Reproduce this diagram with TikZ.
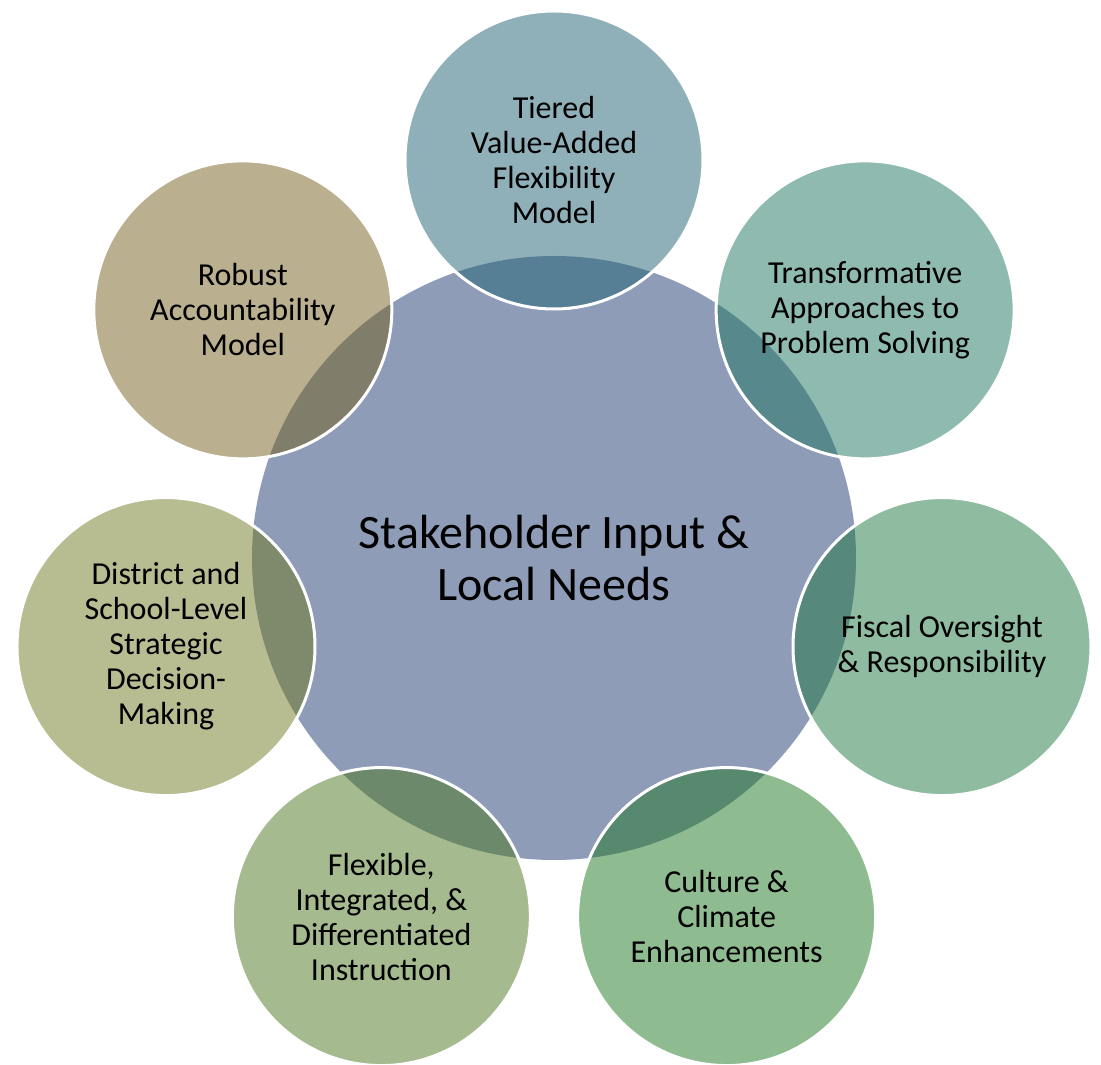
\documentclass[tikz,border=0pt]{standalone}
\usepackage{fontspec}
\setmainfont{Carlito}
\usepackage{xcolor}
\definecolor{hubblue}{RGB}{142,156,184}
\definecolor{tieredc}{RGB}{31,97,113}
\definecolor{transformc}{RGB}{31,117,97}
\definecolor{fiscalc}{RGB}{31,119,65}
\definecolor{culturec}{RGB}{31,119,35}
\definecolor{instructc}{RGB}{75,119,31}
\definecolor{districtc}{RGB}{113,121,35}
\definecolor{robustc}{RGB}{117,95,31}
\tikzset{
    hub/.style={
        circle,
        fill=hubblue,
        minimum size=604pt,
        inner sep=0pt,
        align=center,
        font={\fontsize{48pt}{52pt}\selectfont}
    },
    spoke/.style={
        circle,
        draw=white, line width=3pt,
        fill opacity=0.5, text opacity=1, draw opacity=1,
        minimum size=298pt,
        inner sep=0pt,
        align=center,
        font={\fontsize{32pt}{35pt}\selectfont}
    },
}
\begin{document}
\begin{tikzpicture}
\useasboundingbox (-554pt,-507pt) rectangle (547pt,558pt);
\node[hub] (hub) at (0pt,0pt) {Stakeholder Input \&\\Local Needs};
% seven spokes round the hub
\node[spoke, fill=tieredc] (tiered) at (90:398pt) {Tiered\\Value-Added\\Flexibility\\Model};
\node[spoke, fill=transformc] (transform) at (38.57:398pt) {Transformative\\Approaches to\\Problem Solving};
\node[spoke, fill=fiscalc] (fiscal) at (-12.86:398pt) {Fiscal Oversight\\\& Responsibility};
\node[spoke, fill=culturec] (culture) at (-64.29:398pt) {Culture \&\\Climate\\Enhancements};
\node[spoke, fill=instructc] (instruct) at (-115.71:398pt) {Flexible,\\Integrated, \&\\Differentiated\\Instruction};
\node[spoke, fill=districtc] (district) at (-167.14:398pt) {District and\\School-Level\\Strategic\\Decision-\\Making};
\node[spoke, fill=robustc] (robust) at (141.43:398pt) {Robust\\Accountability\\Model};
\end{tikzpicture}
\end{document}
